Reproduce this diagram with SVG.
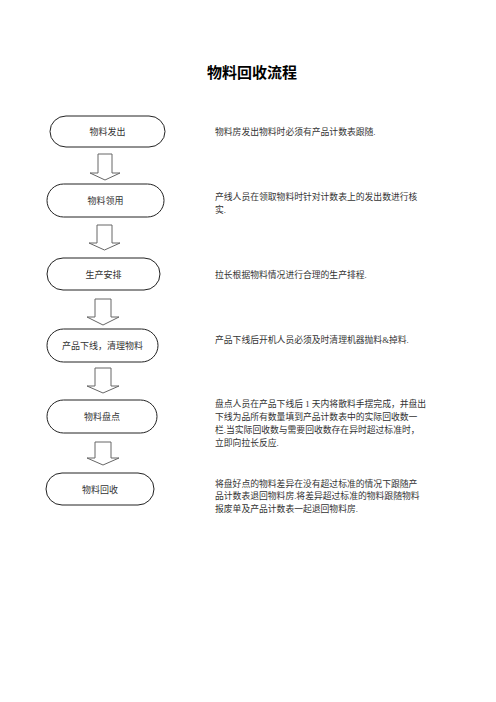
<svg xmlns="http://www.w3.org/2000/svg" width="496" height="702" viewBox="0 0 496 702">
<style>
.node{fill:#fff;stroke:#222;stroke-width:1}
.nt{font-family:"Liberation Serif","Noto Sans CJK SC",serif;font-size:9px;fill:#333;text-anchor:middle}
.dt{font-family:"Liberation Serif","Noto Sans CJK SC",serif;font-size:8.8px;fill:#333}
.arr{fill:#fff;stroke:#666;stroke-width:1}
.title{font-family:"Liberation Sans","Noto Sans CJK SC",sans-serif;font-size:15px;font-weight:bold;fill:#000;text-anchor:middle}
</style>
<rect width="496" height="702" fill="#fff"/>
<text class="title" x="252" y="78">物料回收流程</text>
<g id="connectors">
<polygon class="arr" points="98,154 112,154 112,173 120,173 105,180 90,173 98,173"/>
<polygon class="arr" points="97,225 112,225 112,243 120,243 104.5,250 89,243 97,243"/>
<polygon class="arr" points="95,299 111,299 111,317 119,317 103,325 87,317 95,317"/>
<polygon class="arr" points="95,368 111,368 111,386 119,386 103,393 87,386 95,386"/>
<polygon class="arr" points="95,442 111,442 111,458 119,458 103,465 87,458 95,458"/>
</g>
<g id="n1"><rect class="node" x="50" y="116" width="115" height="31" rx="16"/><text class="nt" x="107.5" y="135">物料发出</text></g>
<g id="n2"><rect class="node" x="47" y="184" width="117" height="33" rx="16.5"/><text class="nt" x="105.5" y="204">物料领用</text></g>
<g id="n3"><rect class="node" x="47" y="258" width="113" height="32" rx="16"/><text class="nt" x="103.5" y="277.5">生产安排</text></g>
<g id="n4"><rect class="node" x="47" y="329" width="111" height="33" rx="16.5"/><text class="nt" x="102.5" y="349">产品下线，清理物料</text></g>
<g id="n5"><rect class="node" x="47" y="400" width="110" height="33" rx="16.5"/><text class="nt" x="102" y="420">物料盘点</text></g>
<g id="n6"><rect class="node" x="46" y="473" width="108" height="32" rx="16"/><text class="nt" x="100" y="492.5">物料回收</text></g>
<g id="descriptions">
<text class="dt" x="215" y="134.5">物料房发出物料时必须有产品计数表跟随.</text>
<text class="dt" x="215" y="199.5">产线人员在领取物料时针对计数表上的发出数进行核</text>
<text class="dt" x="215" y="212.5">实.</text>
<text class="dt" x="215" y="277.5">拉长根据物料情况进行合理的生产排程.</text>
<text class="dt" x="215" y="342.5">产品下线后开机人员必须及时清理机器抛料&amp;掉料.</text>
<text class="dt" x="215" y="406.5">盘点人员在产品下线后 1 天内将散料手摆完成，并盘出</text>
<text class="dt" x="215" y="419.5">下线为品所有数量填到产品计数表中的实际回收数一</text>
<text class="dt" x="215" y="432.5">栏.当实际回收数与需要回收数存在异时超过标准时，</text>
<text class="dt" x="215" y="445.5">立即向拉长反应.</text>
<text class="dt" x="215" y="486.5">将盘好点的物料差异在没有超过标准的情况下跟随产</text>
<text class="dt" x="215" y="499">品计数表退回物料房.将差异超过标准的物料跟随物料</text>
<text class="dt" x="215" y="511.5">报废单及产品计数表一起退回物料房.</text>
</g>
</svg>
